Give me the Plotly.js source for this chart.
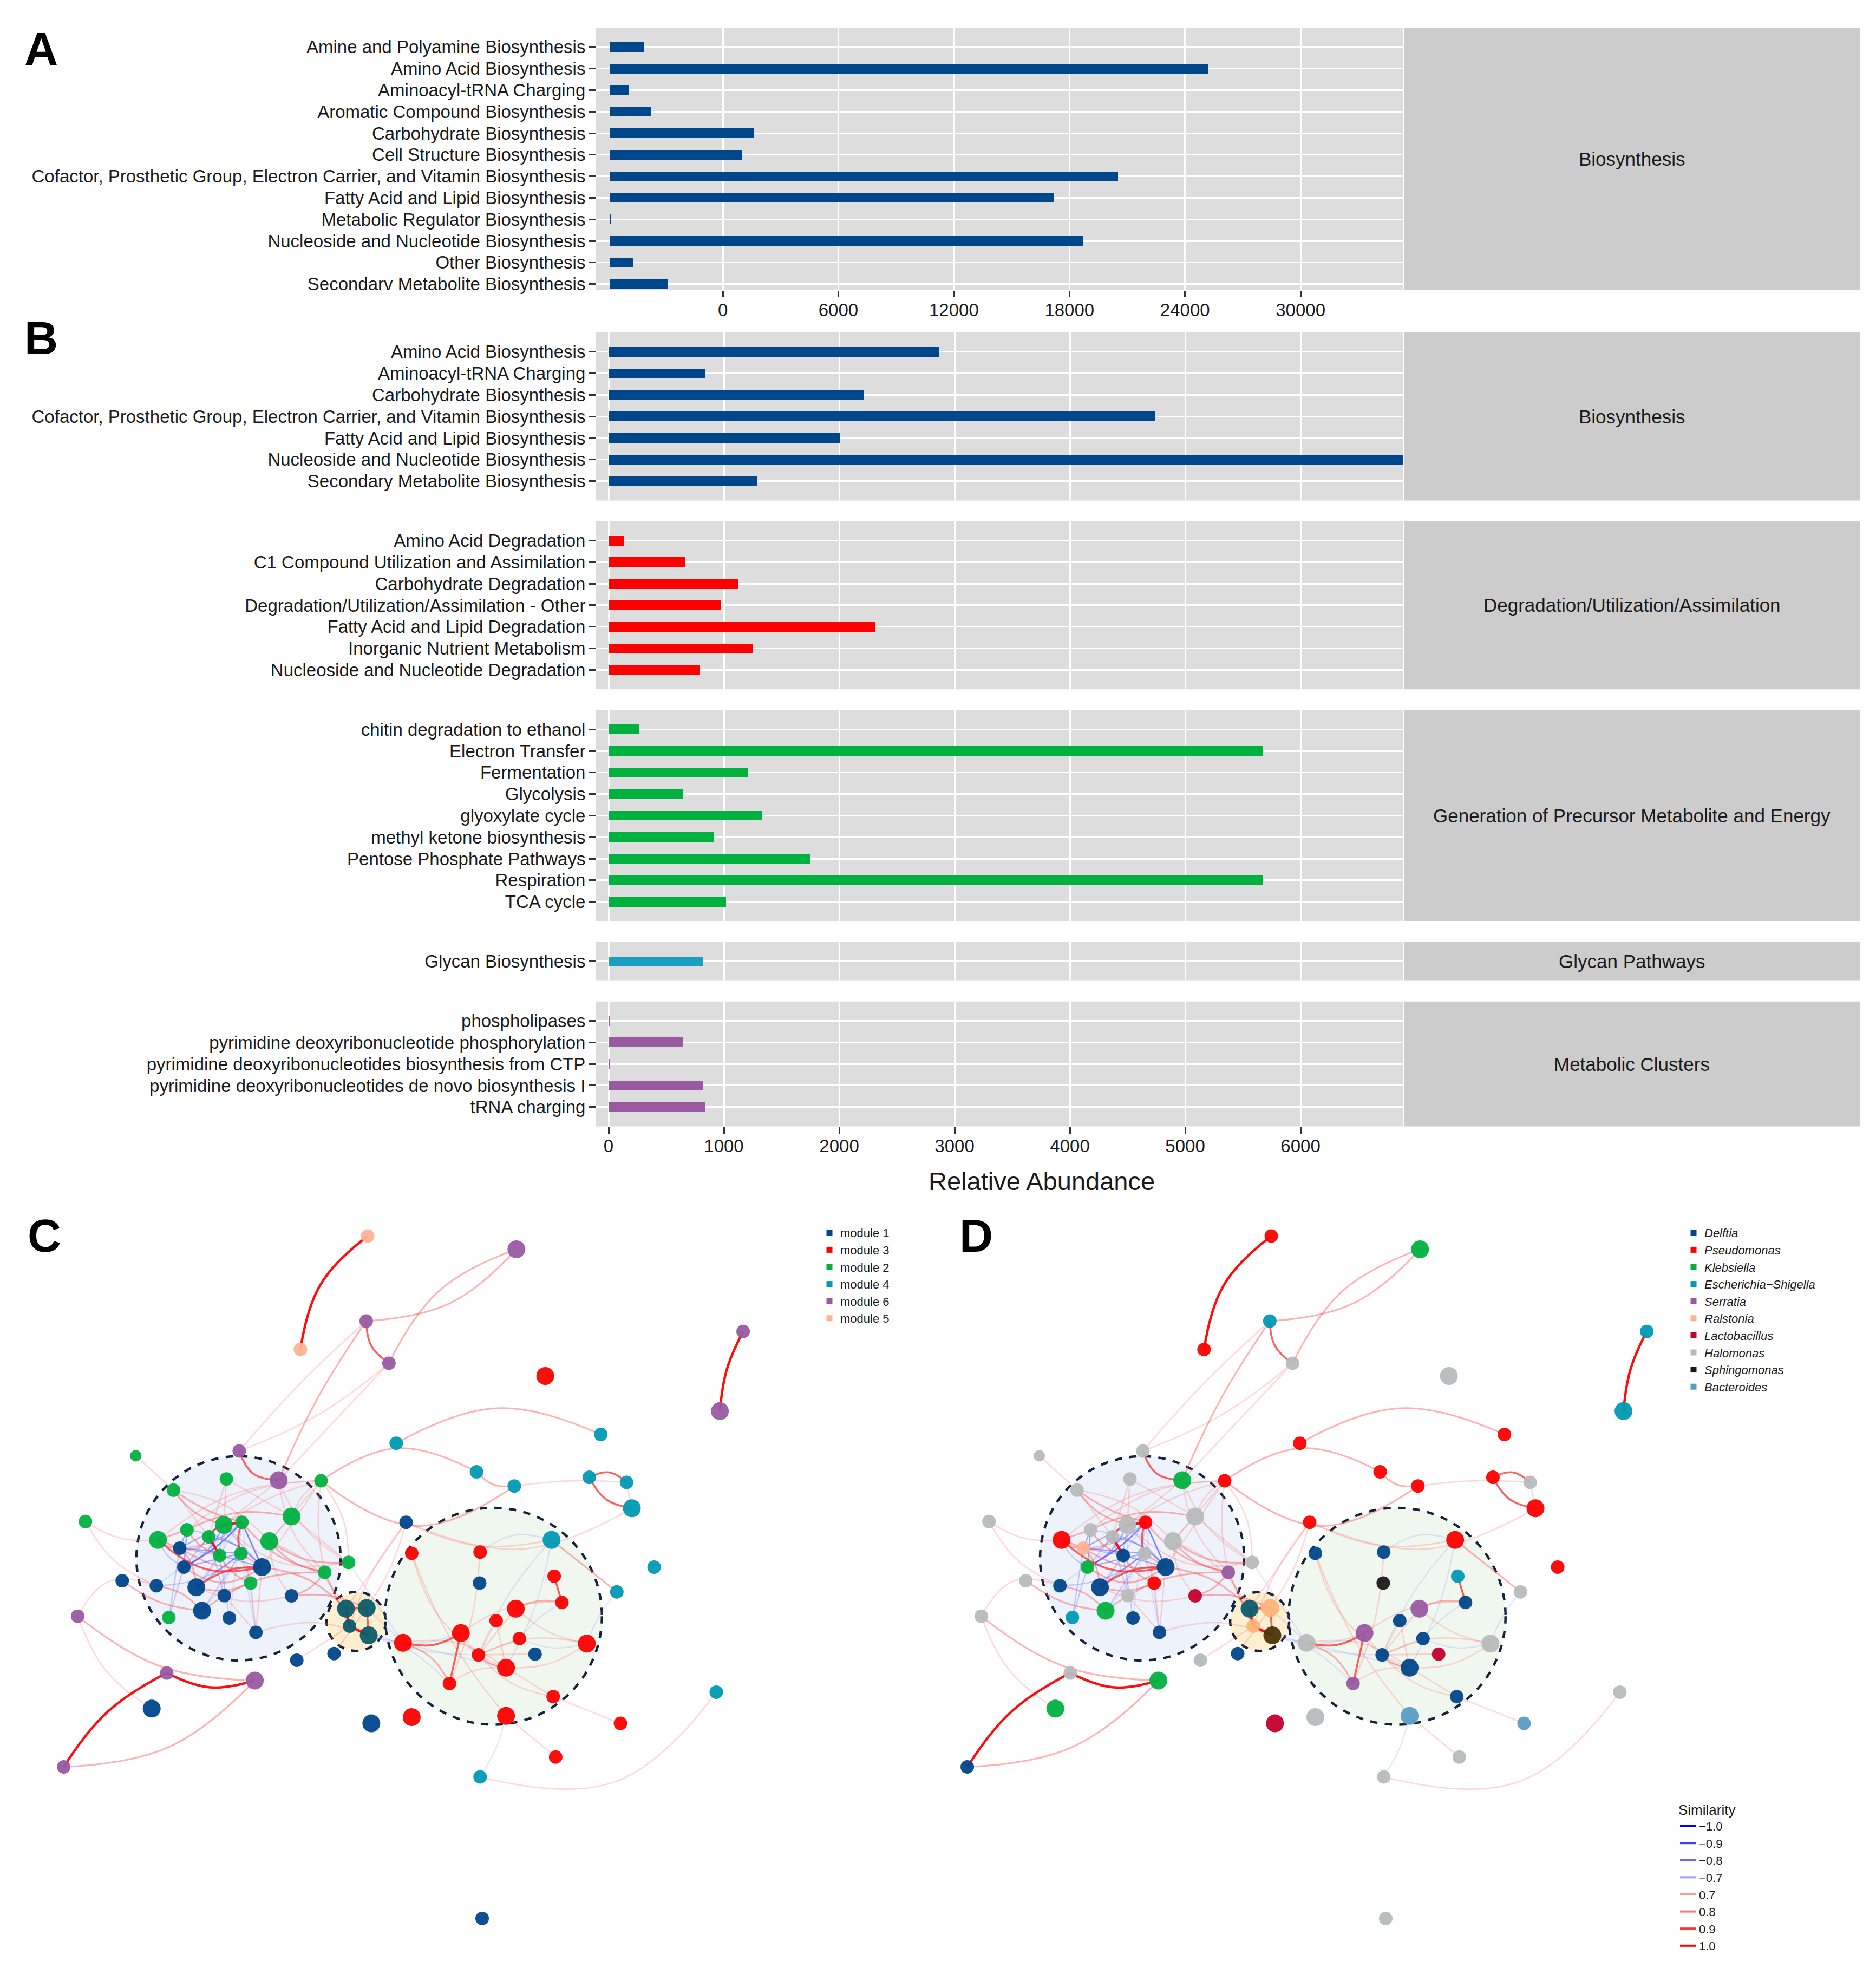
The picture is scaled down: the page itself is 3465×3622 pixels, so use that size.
<!DOCTYPE html>
<html>
<head>
<meta charset="utf-8">
<script src="https://cdn.plot.ly/plotly-3.0.1.min.js"></script>
<style>html,body{margin:0;padding:0;background:#fff;}#chart{width:3465px;height:3622px;}</style>
</head>
<body>
<div id="chart"></div>
<script>
// ---------------- DATA ----------------
const aCategories = ["Amine and Polyamine Biosynthesis","Amino Acid Biosynthesis","Aminoacyl-tRNA Charging","Aromatic Compound Biosynthesis","Carbohydrate Biosynthesis","Cell Structure Biosynthesis","Cofactor, Prosthetic Group, Electron Carrier, and Vitamin Biosynthesis","Fatty Acid and Lipid Biosynthesis","Metabolic Regulator Biosynthesis","Nucleoside and Nucleotide Biosynthesis","Other Biosynthesis","Secondarv Metabolite Biosynthesis"];
const aValues = [1750, 31040, 970, 2140, 7470, 6820, 26360, 23050, 60, 24550, 1170, 2990];
const aTicks = [0, 6000, 12000, 18000, 24000, 30000];

const bBioCats = ["Amino Acid Biosynthesis","Aminoacyl-tRNA Charging","Carbohydrate Biosynthesis","Cofactor, Prosthetic Group, Electron Carrier, and Vitamin Biosynthesis","Fatty Acid and Lipid Biosynthesis","Nucleoside and Nucleotide Biosynthesis","Secondary Metabolite Biosynthesis"];
const bBioVals = [2865, 840, 2215, 4740, 2005, 6950, 1290];
const bDegCats = ["Amino Acid Degradation","C1 Compound Utilization and Assimilation","Carbohydrate Degradation","Degradation/Utilization/Assimilation - Other","Fatty Acid and Lipid Degradation","Inorganic Nutrient Metabolism","Nucleoside and Nucleotide Degradation"];
const bDegVals = [135, 665, 1120, 975, 2310, 1250, 795];
const bGenCats = ["chitin degradation to ethanol","Electron Transfer","Fermentation","Glycolysis","glyoxylate cycle","methyl ketone biosynthesis","Pentose Phosphate Pathways","Respiration","TCA cycle"];
const bGenVals = [265, 5675, 1205, 645, 1335, 915, 1745, 5675, 1020];
const bGlyCats = ["Glycan Biosynthesis"];
const bGlyVals = [815];
const bMetCats = ["phospholipases","pyrimidine deoxyribonucleotide phosphorylation","pyrimidine deoxyribonucleotides biosynthesis from CTP","pyrimidine deoxyribonucleotides de novo biosynthesis I","tRNA charging"];
const bMetVals = [8, 645, 12, 815, 840];
const bTicks = [0, 1000, 2000, 3000, 4000, 5000, 6000];
const facetNames = ["Biosynthesis","Degradation/Utilization/Assimilation","Generation of Precursor Metabolite and Energy","Glycan Pathways","Metabolic Clusters"];

// network nodes (layout coordinates), size class 1-3, module (C), genus (D)
const nodeX = [294,412.9,292.8,240.2,311,436,594.2,575.6,316.8,480.4,191.3,108.5,222.8,181,138.7,256.7,381,411.2,471.2,501,505.2,68.3,324.7,233.1,178.9,193.4,149.5,126.3,166.9,215.3,143.7,175.6,192.6,147,209.5,278.7,259.6,441,329.2,383.9,383.5,443.1,523,493.2,97.7,125,157,200.4,179.3,233.1,62.1,135,161.5,183.4,204.6,276.6,293.2,279.5,294.8,237.3,267.1,133.3,203.7,121.3,50.9,296.9,329.2,496.1,444.3,383.9,572.7,385.5,449.3,412.4,396.7,368.5,322.2,415.3,382.6,427.8,469.2,404.6,359.4,442.3,404.6];
const nodeY = [988.3,998.9,1056.3,1079,1090,1100.2,1064.6,1128.3,1154,1147,1160.2,1164,1183.6,1182.6,1191.5,1184,1176.8,1188.2,1181.2,1185.3,1206,1216.6,1217.2,1212.6,1219.3,1217.2,1223.2,1231.3,1228.8,1232.3,1237.9,1243.7,1242.2,1253,1253,1249.3,1257.2,1231.3,1242,1241,1265.8,1260.3,1253,1272.8,1263.9,1267.9,1269.2,1265.8,1275.8,1276,1292.3,1293.3,1287.9,1293.7,1305.2,1286.3,1285.7,1300.2,1307.6,1327.5,1322.2,1337.7,1343.7,1366.2,1412.8,1378,1373,1378,1404.9,1420.8,1353,1534,1281.3,1286.3,1295.9,1305.8,1313.6,1310.2,1323.2,1322.6,1314.2,1333.5,1346.1,1356.6,1372];
const nodeSize = [2,3,2,2,2,3,2,3,2,2,2,1,3,2,2,2,2,2,2,2,3,2,2,3,3,2,2,3,2,3,2,2,2,2,3,2,2,3,2,2,2,2,2,2,2,2,3,2,2,2,2,2,3,2,2,3,3,2,3,2,2,2,3,3,2,3,3,2,2,2,2,2,2,3,2,3,3,2,2,2,3,3,2,2,3];
const nodeModule = ["module 5","module 6","module 6","module 5","module 6","module 3","module 6","module 6","module 4","module 4","module 6","module 2","module 6","module 2","module 2","module 2","module 4","module 4","module 4","module 4","module 4","module 2","module 1","module 2","module 2","module 2","module 2","module 2","module 2","module 2","module 1","module 2","module 2","module 1","module 1","module 2","module 2","module 4","module 3","module 3","module 1","module 3","module 4","module 4","module 1","module 1","module 1","module 2","module 1","module 1","module 6","module 2","module 1","module 1","module 1","module 1","module 1","module 1","module 1","module 1","module 1","module 6","module 6","module 1","module 6","module 1","module 3","module 3","module 3","module 4","module 4","module 1","module 3","module 3","module 3","module 3","module 3","module 3","module 3","module 1","module 3","module 3","module 3","module 3","module 3"];
const nodeGenus = ["Pseudomonas","Klebsiella","Escherichia−Shigella","Pseudomonas","Halomonas","Halomonas","Escherichia−Shigella","Escherichia−Shigella","Pseudomonas","Pseudomonas","Halomonas","Halomonas","Klebsiella","Halomonas","Halomonas","Pseudomonas","Pseudomonas","Pseudomonas","Pseudomonas","Halomonas","Pseudomonas","Halomonas","Pseudomonas","Halomonas","Halomonas","Pseudomonas","Halomonas","Pseudomonas","Halomonas","Halomonas","Ralstonia","Delftia","Halomonas","Klebsiella","Delftia","Halomonas","Serratia","Pseudomonas","Delftia","Delftia","Sphingomonas","Escherichia−Shigella","Pseudomonas","Halomonas","Halomonas","Delftia","Delftia","Pseudomonas","Halomonas","Lactobacillus","Halomonas","Escherichia−Shigella","Klebsiella","Delftia","Delftia","Delftia","Ralstonia","Ralstonia","Sphingomonas","Halomonas","Delftia","Halomonas","Klebsiella","Klebsiella","Delftia","Lactobacillus","Halomonas","Bacteroides","Halomonas","Halomonas","Halomonas","Halomonas","Delftia","Serratia","Delftia","Serratia","Halomonas","Delftia","Delftia","Lactobacillus","Halomonas","Delftia","Serratia","Delftia","Bacteroides"];

// edges: [from, to, similarity, bend]
const edges = [
[1,4,1.0,0.12],[2,3,0.8,-0.12],[2,5,0.8,0.12],[3,5,0.9,0.15],[3,11,0.7,0.02],[3,13,0.8,0.03],[5,11,0.7,-0.05],[5,13,0.7,0],[11,13,0.9,0.2],[7,8,1.0,0.06],[9,10,0.8,-0.15],
[16,17,0.8,-0.18],[16,18,0.8,0.22],[17,18,0.8,0.15],[18,20,0.7,-0.03],[19,20,0.9,-0.2],[19,21,0.9,0.15],[20,21,0.7,0],[23,21,0.7,0.15],[23,38,0.7,0.1],
[12,15,0.7,0],[22,28,0.7,0.1],[38,44,0.8,0],[38,40,-0.7,0.15],[38,79,-0.7,0.05],[38,82,-0.7,-0.05],[44,81,-0.7,0.05],
[42,73,0.9,0],[73,74,0.8,0.1],[74,79,0.7,0],[73,76,0.7,0.1],[77,76,0.9,0.12],[76,83,0.9,0],[77,83,0.8,-0.12],[75,79,0.7,0],[78,79,0.7,0],[79,82,0.8,0.1],[79,81,0.7,-0.1],[82,81,0.7,0.1],[76,82,0.7,0.1],[79,84,0.7,0.1],[82,84,0.7,0],[39,79,0.7,0.1],[83,82,0.7,-0.1],[80,79,0.7,0],[75,82,0.7,0],[77,82,0.7,-0.12],[78,81,-0.7,0.1],[39,85,0.7,0.05],[40,83,0.7,-0.05],[74,81,0.7,0.08],[73,78,-0.7,0.05],
[56,57,0.9,0],[56,58,1.0,0],[57,59,0.9,0],[58,59,1.0,0],[45,53,0.8,0.08],[56,35,0.8,0.1],[56,30,0.7,0.1],[57,50,0.8,0.08],[58,37,0.8,0],[59,55,0.7,0.1],[56,23,0.7,0],[57,23,0.7,0.05],[58,23,0.7,-0.05],[59,79,-0.7,0.05],[59,76,-0.7,0.1],[57,77,-0.7,0],[59,82,-0.7,0],[58,83,-0.7,-0.08],[36,77,-0.7,0],[61,57,0.7,0],[60,58,0.7,0],
[51,46,0.7,-0.25],[51,63,0.8,0.1],[51,64,0.7,0.1],[62,63,1.0,0.12],[62,65,1.0,0.08],[63,65,0.8,-0.12],[70,85,-0.7,0.05],[70,71,0.7,0.2],[69,85,0.7,0],[68,84,0.7,0],
[15,25,0.8,0.1],[15,26,0.8,0.05],[15,29,0.7,0],[15,30,0.7,-0.1],[14,25,0.7,0],[14,29,0.7,0],[13,25,0.7,0],[16,27,0.7,0.1],[16,28,0.7,0.1],[16,30,0.7,0],[16,35,0.7,0],[16,36,0.7,-0.1],[24,27,0.8,0.1],[24,36,0.7,0],[25,26,1.0,0],[25,29,0.9,0.1],[26,33,0.9,0.1],[27,28,0.8,0],[27,32,0.8,0.1],[28,47,0.8,-0.2],[29,32,1.0,0],[30,36,0.8,0.1],[30,37,0.8,0.1],[30,50,0.7,0.1],[31,35,0.8,0.1],[33,35,0.8,0],[34,35,0.8,0.2],[35,47,0.9,0.1],[35,55,0.7,0],[47,48,0.8,0.1],[46,53,0.8,-0.1],[53,37,0.8,-0.1],[49,55,0.7,0],[48,55,0.7,0],[28,31,0.8,0.1],[26,37,0.8,0.1],[25,36,0.7,0.15],[32,48,0.8,0.1],[33,48,0.7,0],[29,31,0.8,-0.2],[28,35,0.9,0.15],[50,37,0.8,0.1],[47,50,0.7,0.1],[13,36,0.7,0.1],[13,37,0.7,0.1],[16,37,0.7,0.05],[16,24,0.7,0.1],[16,25,0.7,0.05],[14,24,0.7,0],[24,30,0.7,0],[22,46,0.7,0.1],
[31,25,-0.9,0],[31,26,-0.8,0.1],[31,33,-0.9,0],[31,32,-0.8,0],[34,25,-0.9,0.1],[34,26,-1.0,0.05],[34,33,-0.9,0],[34,29,-0.8,0],[35,25,-0.8,0],[35,26,-1.0,0],[35,29,-0.9,0.1],[35,32,-0.9,0],[35,27,-0.8,0.1],[47,25,-0.8,0.1],[47,26,-0.7,0],[47,33,-0.9,0],[46,33,-0.8,0.1],[46,26,-0.7,0],[49,25,-0.7,0],[49,29,-0.8,0],[53,26,-0.7,0.1],[53,33,-0.8,0],[54,26,-0.7,0],[54,32,-0.8,0],[55,26,-0.7,0],[55,33,-0.7,0],[27,31,-0.9,0],[28,34,-0.8,0.1],[27,34,-0.9,0],[52,31,-0.8,0],[52,34,-0.8,0]
];
// module hulls: [centerX, centerY, radius, fill]
const clusters = [[190.7,1246,81.6,'#EEF3FB'],[394.6,1292.3,86.7,'#F0F7EE'],[284.7,1296.4,23.6,'#FDEFCF']];

const moduleOrder = ["module 1","module 3","module 2","module 4","module 6","module 5"];
const genusOrder = ["Delftia","Pseudomonas","Klebsiella","Escherichia−Shigella","Serratia","Ralstonia","Lactobacillus","Halomonas","Sphingomonas","Bacteroides"];
const simLevels = [-1.0,-0.9,-0.8,-0.7,0.7,0.8,0.9,1.0];
const simLabels = ["−1.0","−0.9","−0.8","−0.7","0.7","0.8","0.9","1.0"];

// ---------------- STYLE ----------------
const W = 3465, H = 3622, SX = 3465/1500;
const FONT = 'Liberation Sans, Arial, Helvetica, sans-serif';
const fx = p => p / W, fy = p => 1 - p / H;
const moduleColor = {"module 1":"#00468B","module 3":"#FF0000","module 2":"#00B140","module 4":"#0099B4","module 6":"#995AA2","module 5":"#FDB394"};
const genusColor = {"Delftia":"#00468B","Pseudomonas":"#FF0000","Klebsiella":"#00B140","Escherichia−Shigella":"#0099B4","Serratia":"#995AA2","Ralstonia":"#FDB394","Lactobacillus":"#C4002C","Halomonas":"#B7BBBB","Sphingomonas":"#1B1919","Bacteroides":"#5B9BC4"};
const clusterTint = {"#00468B":"#0B5C6A","#FDB394":"#FDB47A","#1B1919":"#4A3508"};
const simStyle = {"-1":["rgba(0,0,255,0.5)",2.6],"-0.9":["rgba(40,40,255,0.38)",2.4],"-0.8":["rgba(90,90,255,0.3)",2.3],"-0.7":["rgba(130,130,255,0.22)",2.2],
  "0.7":["rgba(255,110,110,0.28)",2.6],"0.8":["rgba(255,80,80,0.45)",3],"0.9":["rgba(255,30,30,0.7)",3.6],"1":["rgba(255,0,0,0.95)",4.5]};
const simLegendColor = ["#0000FF","#3B3BFF","#6666FF","#A0A0FF","#FF9A9A","#FF7777","#FF3333","#FF0000"];
const sizePx = [0, 21, 25, 33];
const BAR_COLORS = ["#00468B","#FF0000","#00B140","#1A9FC0","#995AA2"];
const PANEL_BG = '#DDDDDD', STRIP_BG = '#CCCCCC';
const A_BASE = -5850;

const traces = [];
const shapes = [];
const annotations = [];
const layout = {
  width: W, height: H, margin: {l:0, r:0, t:0, b:0},
  paper_bgcolor: '#FFFFFF', plot_bgcolor: 'rgba(0,0,0,0)',
  font: {family: FONT, color: '#1A1A1A'},
  showlegend: true, bargap: 0, shapes, annotations
};

// geometry of bar panels (pixels)
const PL = 1101, PR = 2591, SL = 2593, SR = 3435;
const ROW = 39.8, PAD = 0.9, GAP = 38.3;
const tickFont = {family: FONT, size: 33, color: '#1A1A1A'};
function yAxisCfg(cats, top, bottom, anchor, rangeBottom) {
  const n = cats.length;
  return {domain: [fy(bottom), fy(top)], type: 'category', categoryarray: cats,
    tickmode: 'array', tickvals: cats, ticktext: cats,
    range: [rangeBottom !== undefined ? rangeBottom : n - 1 + PAD, -PAD], anchor: anchor,
    showgrid: true, gridcolor: '#FFFFFF', gridwidth: 3, zeroline: false, showline: false,
    ticks: 'outside', ticklen: 12, tickwidth: 3, tickcolor: '#333333', tickfont: tickFont, fixedrange: true};
}
function xAxisCfg(range, ticks, anchor) {
  return {domain: [fx(PL), fx(PR)], range: range, tickmode: 'array', tickvals: ticks, ticktext: ticks.map(String), anchor: anchor,
    showgrid: true, gridcolor: '#FFFFFF', gridwidth: 3, zeroline: false, showline: false,
    ticks: 'outside', ticklen: 12, tickwidth: 3, tickcolor: '#333333', tickfont: tickFont, ticklabelstandoff: -5, fixedrange: true};
}
function panelBg(top, bottom) {
  shapes.push({type:'rect', xref:'paper', yref:'paper', x0: fx(PL), x1: fx(PR), y0: fy(bottom), y1: fy(top), fillcolor: PANEL_BG, line:{width:0}, layer:'below'});
  shapes.push({type:'rect', xref:'paper', yref:'paper', x0: fx(SL), x1: fx(SR), y0: fy(bottom), y1: fy(top), fillcolor: STRIP_BG, line:{width:0}, layer:'below'});
}
function stripText(text, top, bottom) {
  annotations.push({xref:'paper', yref:'paper', x: fx((SL+SR)/2), y: fy((top+bottom)/2), text: text, showarrow:false,
    font:{family:FONT, size:35, color:'#1A1A1A'}, xanchor:'center', yanchor:'middle'});
}

// ---- Panel A ----
const aTop = 51, aBottom = 536;
panelBg(aTop, aBottom);
stripText(facetNames[0], aTop, aBottom);
layout.xaxis = xAxisCfg([-6580, 35310], aTicks, 'y');
layout.yaxis = yAxisCfg(aCategories, aTop, aBottom, 'x', -PAD + (aBottom - aTop) / ROW);
traces.push({type:'bar', orientation:'h', x: aValues, y: aCategories, base: A_BASE, width: 0.45,
  marker:{color: BAR_COLORS[0], line:{width:0}}, xaxis:'x', yaxis:'y', showlegend:false, hoverinfo:'skip'});

// ---- Panel B ----
const bCats = [bBioCats, bDegCats, bGenCats, bGlyCats, bMetCats];
const bVals = [bBioVals, bDegVals, bGenVals, bGlyVals, bMetVals];
let cur = 614;
bCats.forEach((cats, i) => {
  const h = (cats.length - 1 + 2 * PAD) * ROW;
  const top = cur, bottom = cur + h;
  const yk = 'yaxis' + (i + 2), yr = 'y' + (i + 2);
  layout[yk] = yAxisCfg(cats, top, bottom, 'x2');
  panelBg(top, bottom);
  stripText(facetNames[i], top, bottom);
  traces.push({type:'bar', orientation:'h', x: bVals[i], y: cats, width: 0.45,
    marker:{color: BAR_COLORS[i], line:{width:0}}, xaxis:'x2', yaxis: yr, showlegend:false, hoverinfo:'skip'});
  cur = bottom + GAP;
});
layout.xaxis2 = xAxisCfg([-108, 6887], bTicks, 'y6');
annotations.push({xref:'paper', yref:'paper', x: fx(1924), y: fy(2181), text:'Relative Abundance', showarrow:false,
  font:{family:FONT, size:47, color:'#1A1A1A'}, xanchor:'center', yanchor:'middle'});

// panel letters
[['A',76,90],['B',76,624],['C',82,2282],['D',1803,2282]].forEach(([t,x,y]) => {
  annotations.push({xref:'paper', yref:'paper', x: fx(x), y: fy(y), text:'<b>'+t+'</b>', showarrow:false,
    font:{family:FONT, size:86, color:'#000000'}, xanchor:'center', yanchor:'middle'});
});

// ---- Panels C & D (network) ----
const NET_W = 720, D_OFF = 722.5, NET_TOP = 940, NET_BOT = 1568;
layout.yaxis7 = {domain: [0, 1 - NET_TOP * SX / H], range: [NET_BOT, NET_TOP], visible: false, anchor: 'x3', fixedrange: true};
layout.xaxis3 = {domain: [0, NET_W * SX / W], range: [0, NET_W], visible: false, anchor: 'y7', fixedrange: true};
layout.xaxis4 = {domain: [D_OFF * SX / W, (D_OFF + NET_W) * SX / W], range: [0, NET_W], visible: false, anchor: 'y7', fixedrange: true};

function inCluster(i) {
  const c = clusters[2];
  return Math.hypot(nodeX[i] - c[0], nodeY[i] - c[1]) < c[2];
}
['x3','x4'].forEach((xa, pi) => {
  clusters.forEach(c => {
    shapes.push({type:'circle', xref: xa, yref:'y7', x0: c[0]-c[2], x1: c[0]+c[2], y0: c[1]-c[2], y1: c[1]+c[2],
      fillcolor: c[3], line:{color:'#14233C', width:4.5, dash:'dash'}, layer:'below'});
  });
  simLevels.forEach((lv) => {
    const xs = [], ys = [];
    edges.forEach(e => {
      if (Math.abs(e[2] - lv) > 1e-9) return;
      const a = e[0]-1, b = e[1]-1;
      const x1 = nodeX[a], y1 = nodeY[a], x2 = nodeX[b], y2 = nodeY[b];
      const mx = (x1+x2)/2 - (y2-y1)*e[3], my = (y1+y2)/2 + (x2-x1)*e[3];
      xs.push(x1, mx, x2, null); ys.push(y1, my, y2, null);
    });
    const st = simStyle[String(lv)];
    traces.push({type:'scatter', mode:'lines', x: xs, y: ys, xaxis: xa, yaxis:'y7',
      line:{color: st[0], width: st[1], shape:'spline', smoothing:1.2}, hoverinfo:'skip', showlegend:false});
  });
  const cols = nodeX.map((_, i) => {
    let c = pi === 0 ? moduleColor[nodeModule[i]] : genusColor[nodeGenus[i]];
    if (inCluster(i) && clusterTint[c]) c = clusterTint[c];
    if (pi === 0 && inCluster(i)) c = '#0B5C6A';
    return c;
  });
  traces.push({type:'scatter', mode:'markers', x: nodeX, y: nodeY, xaxis: xa, yaxis:'y7',
    marker:{color: cols, size: nodeSize.map(s => sizePx[s]), opacity: 0.95, line:{width:0}},
    hoverinfo:'skip', showlegend:false});
});

// legends
moduleOrder.forEach(m => traces.push({type:'scatter', mode:'markers', x:[null], y:[null], xaxis:'x3', yaxis:'y7', name: m,
  marker:{symbol:'square', size:11, color: moduleColor[m]}, legend:'legend', hoverinfo:'skip'}));
genusOrder.forEach(g => traces.push({type:'scatter', mode:'markers', x:[null], y:[null], xaxis:'x4', yaxis:'y7', name: g,
  marker:{symbol:'square', size:11, color: genusColor[g]}, legend:'legend2', hoverinfo:'skip'}));
simLevels.forEach((lv, i) => traces.push({type:'scatter', mode:'lines', x:[null], y:[null], xaxis:'x4', yaxis:'y7', name: simLabels[i],
  line:{color: simLegendColor[i], width:4}, legend:'legend3', hoverinfo:'skip'}));

layout.legend = {x: fx(1512), y: fy(2256), xanchor:'left', yanchor:'top', bgcolor:'rgba(0,0,0,0)',
  font:{family:FONT, size:22, color:'#1A1A1A'}, itemwidth:30, tracegroupgap:0, itemclick:false};
layout.legend2 = {x: fx(3108), y: fy(2256), xanchor:'left', yanchor:'top', bgcolor:'rgba(0,0,0,0)',
  font:{family:FONT, size:22, color:'#1A1A1A', style:'italic'}, itemwidth:30, tracegroupgap:0, itemclick:false};
layout.legend3 = {x: fx(3098), y: fy(3318), xanchor:'left', yanchor:'top', bgcolor:'rgba(0,0,0,0)',
  title:{text:'Similarity', font:{family:FONT, size:26, color:'#1A1A1A'}},
  font:{family:FONT, size:22, color:'#1A1A1A'}, itemwidth:30, tracegroupgap:0, itemclick:false};

Plotly.newPlot('chart', traces, layout, {staticPlot: true, displayModeBar: false});
</script>
</body>
</html>
